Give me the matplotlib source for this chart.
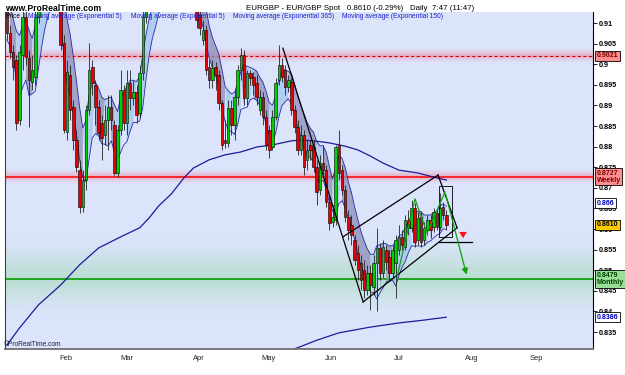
import numpy as np
import matplotlib
matplotlib.use("Agg")
import matplotlib.pyplot as plt
from matplotlib.ticker import FuncFormatter

plt.rcParams["font.family"] = ["Liberation Sans", "DejaVu Sans"]

# ---------------- data (daily EUR/GBP candles) ----------------
opens = [0.9150,0.9076,0.9030,0.9010,0.8865,0.9022,0.9115,0.9015,0.8957,0.8969,
         0.9115,0.9160,0.9205,0.9190,0.9230,0.9200,0.9175,0.9180,0.9051,0.8836,
         0.8974,0.8896,0.8816,0.8743,0.8653,0.8719,0.8889,0.8993,0.8950,0.8896,
         0.8858,0.8828,0.8865,0.8896,0.8852,0.8736,0.8840,0.8937,0.8858,0.8954,
         0.8918,0.8933,0.8882,0.8979,0.9115,0.9150,0.9175,0.9160,0.9200,0.9225,
         0.9210,0.9240,0.9220,0.9195,0.9215,0.9230,0.9205,0.9190,0.9200,0.9175,
         0.9150,0.9119,0.9059,0.9083,0.8993,0.8962,0.8993,0.8974,0.8906,0.8816,
         0.8809,0.8894,0.8852,0.8920,0.8986,0.9022,0.8918,0.8979,0.8969,0.8954,
         0.8889,0.8920,0.8872,0.8840,0.8799,0.8872,0.8962,0.8998,0.8986,0.8945,
         0.8957,0.8889,0.8847,0.8792,0.8828,0.8768,0.8804,0.8799,0.8751,0.8695,
         0.8760,0.8743,0.8665,0.8617,0.8622,0.8804,0.8743,0.8695,0.8629,0.8610,
         0.8573,0.8542,0.8518,0.8501,0.8452,0.8493,0.8459,0.8518,0.8554,0.8493,
         0.8549,0.8532,0.8493,0.8518,0.8549,0.8581,0.8556,0.8622,0.8602,0.8651,
         0.8573,0.8629,0.8573,0.8598,0.8622,0.8605,0.8639,0.8605,0.8653,0.8634]
highs = [0.9165,0.9095,0.9047,0.9022,0.9047,0.9144,0.9132,0.9034,0.9022,0.9156,
         0.9175,0.9220,0.9225,0.9245,0.9250,0.9215,0.9195,0.9200,0.9071,0.9010,
         0.8998,0.8913,0.8840,0.8768,0.8743,0.8901,0.9051,0.9010,0.8962,0.8913,
         0.8877,0.8901,0.8925,0.8925,0.8865,0.8852,0.8986,0.8950,0.8986,0.8986,
         0.8962,0.8950,0.8998,0.9132,0.9165,0.9190,0.9190,0.9215,0.9240,0.9240,
         0.9255,0.9255,0.9235,0.9230,0.9245,0.9245,0.9220,0.9215,0.9215,0.9190,
         0.9165,0.9144,0.9107,0.9095,0.9010,0.9010,0.9005,0.8986,0.8913,0.8865,
         0.8913,0.8913,0.8937,0.8998,0.9039,0.9034,0.8986,0.8986,0.8981,0.8974,
         0.8937,0.8933,0.8889,0.8852,0.8889,0.8967,0.9047,0.9015,0.8998,0.8974,
         0.8967,0.8901,0.8865,0.8852,0.8840,0.8816,0.8816,0.8816,0.8768,0.8780,
         0.8804,0.8756,0.8683,0.8658,0.8804,0.8840,0.8756,0.8707,0.8646,0.8634,
         0.8585,0.8561,0.8537,0.8525,0.8513,0.8513,0.8537,0.8602,0.8566,0.8573,
         0.8561,0.8549,0.8561,0.8585,0.8610,0.8598,0.8634,0.8646,0.8670,0.8663,
         0.8641,0.8641,0.8617,0.8634,0.8634,0.8651,0.8651,0.8687,0.8665,0.8646]
lows  = [0.9059,0.9015,0.8962,0.8840,0.8852,0.8986,0.8998,0.8847,0.8937,0.8950,
         0.9100,0.9145,0.9175,0.9175,0.9185,0.9160,0.9160,0.9034,0.8833,0.8816,
         0.8865,0.8792,0.8738,0.8639,0.8641,0.8695,0.8877,0.8925,0.8852,0.8816,
         0.8768,0.8804,0.8792,0.8840,0.8731,0.8726,0.8828,0.8840,0.8828,0.8889,
         0.8901,0.8858,0.8869,0.8962,0.9100,0.9135,0.9145,0.9145,0.9185,0.9195,
         0.9195,0.9205,0.9180,0.9180,0.9200,0.9190,0.9175,0.9175,0.9160,0.9135,
         0.9088,0.9071,0.9047,0.8974,0.8942,0.8942,0.8937,0.8889,0.8792,0.8797,
         0.8799,0.8828,0.8816,0.8901,0.8962,0.8901,0.8901,0.8950,0.8925,0.8901,
         0.8877,0.8852,0.8792,0.8772,0.8792,0.8865,0.8950,0.8957,0.8925,0.8933,
         0.8877,0.8833,0.8780,0.8780,0.8731,0.8743,0.8768,0.8738,0.8658,0.8683,
         0.8731,0.8653,0.8598,0.8605,0.8610,0.8719,0.8683,0.8617,0.8573,0.8561,
         0.8513,0.8476,0.8452,0.8433,0.8440,0.8403,0.8440,0.8400,0.8476,0.8481,
         0.8501,0.8476,0.8481,0.8433,0.8537,0.8549,0.8549,0.8585,0.8593,0.8556,
         0.8561,0.8556,0.8561,0.8585,0.8578,0.8593,0.8598,0.8598,0.8622,0.8598]
closes = [0.9076,0.9030,0.8993,0.8858,0.9030,0.9115,0.9017,0.8962,0.8986,0.9115,
          0.9160,0.9205,0.9190,0.9230,0.9200,0.9175,0.9180,0.9047,0.8840,0.8981,
          0.8889,0.8816,0.8751,0.8653,0.8719,0.8889,0.8986,0.8954,0.8896,0.8833,
          0.8821,0.8865,0.8896,0.8865,0.8736,0.8840,0.8937,0.8858,0.8954,0.8918,
          0.8933,0.8877,0.8979,0.9115,0.9150,0.9175,0.9160,0.9200,0.9225,0.9210,
          0.9240,0.9220,0.9195,0.9215,0.9230,0.9205,0.9190,0.9200,0.9175,0.9150,
          0.9107,0.9088,0.9083,0.8986,0.8962,0.8991,0.8974,0.8906,0.8804,0.8809,
          0.8894,0.8852,0.8920,0.8986,0.9022,0.8918,0.8979,0.8967,0.8950,0.8920,
          0.8920,0.8872,0.8804,0.8792,0.8872,0.8954,0.8998,0.8969,0.8945,0.8962,
          0.8889,0.8847,0.8792,0.8828,0.8751,0.8792,0.8792,0.8751,0.8690,0.8760,
          0.8743,0.8665,0.8615,0.8629,0.8799,0.8736,0.8695,0.8629,0.8598,0.8585,
          0.8525,0.8501,0.8476,0.8452,0.8493,0.8464,0.8518,0.8554,0.8493,0.8556,
          0.8520,0.8493,0.8549,0.8573,0.8581,0.8561,0.8622,0.8602,0.8651,0.8568,
          0.8627,0.8568,0.8602,0.8622,0.8598,0.8641,0.8605,0.8651,0.8634,0.8610]

# long exponential averages (bar index -> value)
ema_long_idx = [0, 4, 10, 17, 23, 29, 36, 42, 45, 48, 52, 56, 59, 64, 69, 74, 79, 84, 90, 93,
                97, 102, 107, 111, 115, 119, 124, 130, 136, 139]
ema_long_val = [0.8318, 0.8360, 0.8416, 0.8464, 0.8513, 0.8554, 0.8581, 0.8603, 0.8627, 0.8656,
                0.8685, 0.8724, 0.8748, 0.8768, 0.8780, 0.8787, 0.8799, 0.8804, 0.8814, 0.8816,
                0.8814, 0.8809, 0.8801, 0.8792, 0.8777, 0.8760, 0.8743, 0.8736, 0.8724, 0.8719]
ema_low_idx = [88, 90, 98, 105, 115, 124, 132, 139]
ema_low_val = [0.8300, 0.8306, 0.8330, 0.8348, 0.8362, 0.8372, 0.8379, 0.8386]

month_labels = ["Feb", "Mar", "Apr", "May", "Jun", "Jul", "Aug", "Sep"]
month_pos = [18.7, 38.0, 60.8, 82.6, 102.5, 124.0, 147.0, 167.4]

level_daily_dashed = 0.9021
level_weekly = 0.8727
level_monthly = 0.8479

# drawn annotations (bar index, price)
desc_line = [(87.3, 0.9039), (112.7, 0.8423)]
chan_upper = [(106.3, 0.8581), (136.4, 0.8731)]
chan_lower = [(112.7, 0.8423), (142.4, 0.8603)]
apex_line = [(136.4, 0.8731), (142.4, 0.8603)]
box_rect = [(136.7, 0.8581), (140.8, 0.8704)]
break_line = [(136.7, 0.8569), (147.2, 0.8569)]
zigzag = [(123.4, 0.8483), (129.1, 0.8673), (132.9, 0.8590), (138.6, 0.8690), (145.6, 0.8483)]
red_arrow = [(144.3, 0.8594), (144.3, 0.8571)]

# ---------------- figure ----------------
BG = "#dbe4fb"
fig = plt.figure(figsize=(6.25, 3.75), dpi=100)
ax = fig.add_axes([5/625, 1-349/375, 588/625, 337/375])
ax.set_facecolor(BG)
XMIN, XMAX = -0.6, 185.4
YMIN, YMAX = 0.83088, 0.91267

def glow(yc, half_up, half_dn, rgb, peak):
    ys = np.linspace(yc - half_dn, yc + half_up, 200)
    a = np.where(ys >= yc, 1 - (ys - yc) / half_up, 1 - (yc - ys) / half_dn)
    a = np.clip(a, 0, 1) ** 1.3 * peak
    img = np.zeros((200, 2, 4))
    img[..., 0], img[..., 1], img[..., 2] = rgb
    img[..., 3] = a[:, None]
    ax.imshow(img, extent=[XMIN, XMAX, ys[0], ys[-1]], origin="lower",
              aspect="auto", zorder=0.5, interpolation="bilinear")

glow(level_daily_dashed, 0.0018, 0.0018, (0.92, 0.62, 0.72), 0.8)
glow(level_weekly, 0.0018, 0.0018, (0.92, 0.62, 0.72), 0.8)
glow(level_monthly, 0.010, 0.009, (0.70, 0.87, 0.78), 0.85)
ax.set_xlim(XMIN, XMAX)
ax.set_ylim(YMIN, YMAX)

ax.axhline(level_daily_dashed, color="#e00000", lw=0.8, ls=(0, (3, 2)), zorder=1)
ax.axhline(level_weekly, color="#ff0000", lw=1.1, zorder=1)
ax.axhline(level_monthly, color="#10a010", lw=1.3, zorder=1)

# EMA(5) band
def ema(v, n=5):
    a = 2 / (n + 1)
    out = [v[0]]
    for x in v[1:]:
        out.append(a * x + (1 - a) * out[-1])
    return np.array(out)

idx = np.arange(len(closes))
e_hi = ema(highs)
e_lo = ema(lows)
e_c = ema(closes)
rising = np.r_[True, np.diff(e_c) >= 0]
ax.fill_between(idx, e_hi, e_lo, where=~rising, color="#8d8db8", alpha=0.75, lw=0, zorder=1.5, interpolate=True)
ax.fill_between(idx, e_hi, e_lo, where=rising, color="#a8c8f2", alpha=0.85, lw=0, zorder=1.5, interpolate=True)
ax.plot(idx, e_hi, color="#2a2aa0", lw=0.6, zorder=1.6)
ax.plot(idx, e_lo, color="#2a2aa0", lw=0.6, zorder=1.6)

# long EMAs
ax.plot(ema_long_idx, ema_long_val, color="#1c1c9a", lw=0.9, zorder=1.7)
ax.plot(ema_low_idx, ema_low_val, color="#1c1c9a", lw=0.9, zorder=1.7)

# candles
o = np.array(opens); c = np.array(closes)
ax.vlines(idx, lows, highs, color="#222222", lw=0.6, zorder=2)
cols = np.where(c >= o, "#00d000", "#e80000")
hgt = c - o
hgt = np.where(np.abs(hgt) < 0.0002, 0.0002, hgt)
ax.bar(idx, hgt, bottom=o, width=0.8, color=cols, edgecolor="black", lw=0.4, zorder=3)

# annotations
def seg(pts, **kw):
    xs, ys = zip(*pts)
    ax.plot(xs, ys, **kw)

seg(desc_line, color="black", lw=0.9, zorder=4)
seg(chan_upper, color="black", lw=0.9, zorder=4)
seg(chan_lower, color="black", lw=0.9, zorder=4)
seg(apex_line, color="black", lw=0.9, zorder=4)
seg(break_line, color="black", lw=0.9, zorder=4)
(x0, y0), (x1, y1) = box_rect
seg([(x0, y0), (x1, y0), (x1, y1), (x0, y1), (x0, y0)], color="black", lw=0.6, zorder=4)
seg(zigzag[:-1], color="#10a010", lw=0.9, zorder=4)
ax.annotate("", xy=zigzag[-1], xytext=zigzag[-2],
            arrowprops=dict(arrowstyle="-|>,head_width=0.18,head_length=0.35", color="#10a010", lw=0.9), zorder=4)
ax.annotate("", xy=red_arrow[1], xytext=red_arrow[0],
            arrowprops=dict(arrowstyle="simple,head_width=0.55,head_length=0.45,tail_width=0.25",
                            color="#ff1010", lw=0), zorder=4)

# axes styling
ax.yaxis.tick_right()
ax.set_yticks(np.arange(0.835, 0.9101, 0.005))
ax.yaxis.set_major_formatter(FuncFormatter(lambda v, p: f"{v:.3f}".rstrip("0").rstrip(".")))
ax.tick_params(axis="y", which="both", length=3, width=0.6, colors="black", labelsize=5.2, pad=1)
for lab in ax.get_yticklabels():
    lab.set_fontweight("bold")
ax.set_xticks(month_pos)
ax.set_xticklabels(month_labels)
ax.tick_params(axis="x", length=0, labelsize=5.4, pad=4, colors="#222222")
ax.spines["top"].set_visible(False)
ax.spines["right"].set_color("black"); ax.spines["right"].set_linewidth(0.8)
ax.spines["left"].set_color("#404040"); ax.spines["left"].set_linewidth(0.8)
ax.spines["bottom"].set_color("#707070"); ax.spines["bottom"].set_linewidth(1.3)

# right-side value boxes
def vbox(y, txt, fc, tc, ec="black"):
    ax.annotate(txt, xy=(1.006, y), xycoords=("axes fraction", "data"), ha="left", va="center",
                fontsize=5.0, color=tc, fontweight="bold", linespacing=1.05,
                bbox=dict(boxstyle="square,pad=0.22", fc=fc, ec=ec, lw=0.6), zorder=10, annotation_clip=False)

vbox(0.9021, "0.9021", "#ff8f8f", "#7a0000")
vbox(0.8727, "0.8727\nWeekly", "#ff8f8f", "#7a0000")
vbox(0.8662, "0.866", "white", "#0000c0")
vbox(0.8610, "0.8610", "#ffcc00", "black")
vbox(0.8479, "0.8479\nMonthly", "#98e098", "#004000")
vbox(0.8386, "0.8386", "white", "#0000c0")

# header texts
fig.text(5/625, 1-8.5/375, "www.ProRealTime.com", fontsize=6.2, fontweight="bold", color="black", va="center")
fig.text(246/625, 1-8/375, "EURGBP - EUR/GBP Spot   0.8610 (-0.29%)   Daily  7:47 (11:47)",
         fontsize=5.7, color="black", va="center")
legend_y = 1 - 16/375
fig.text(5/625, legend_y, "Price", fontsize=4.8, color="black", va="center", zorder=20)
fig.text(23/625, legend_y, "|", fontsize=4.8, color="black", va="center", zorder=20)
for xpx, t in [(28, "Moving average (Exponential 5)"), (131, "Moving average (Exponential 5)"),
               (233, "Moving average (Exponential 365)"), (342, "Moving average (Exponential 150)")]:
    fig.text(xpx/625, legend_y, t, fontsize=4.8, color="#1e1ec8", va="center", zorder=20)
fig.text(4/625, 1-344/375, "©ProRealTime.com", fontsize=4.8, color="#202040", va="center", zorder=20)

fig.savefig("out.png", dpi=100, facecolor="white")
